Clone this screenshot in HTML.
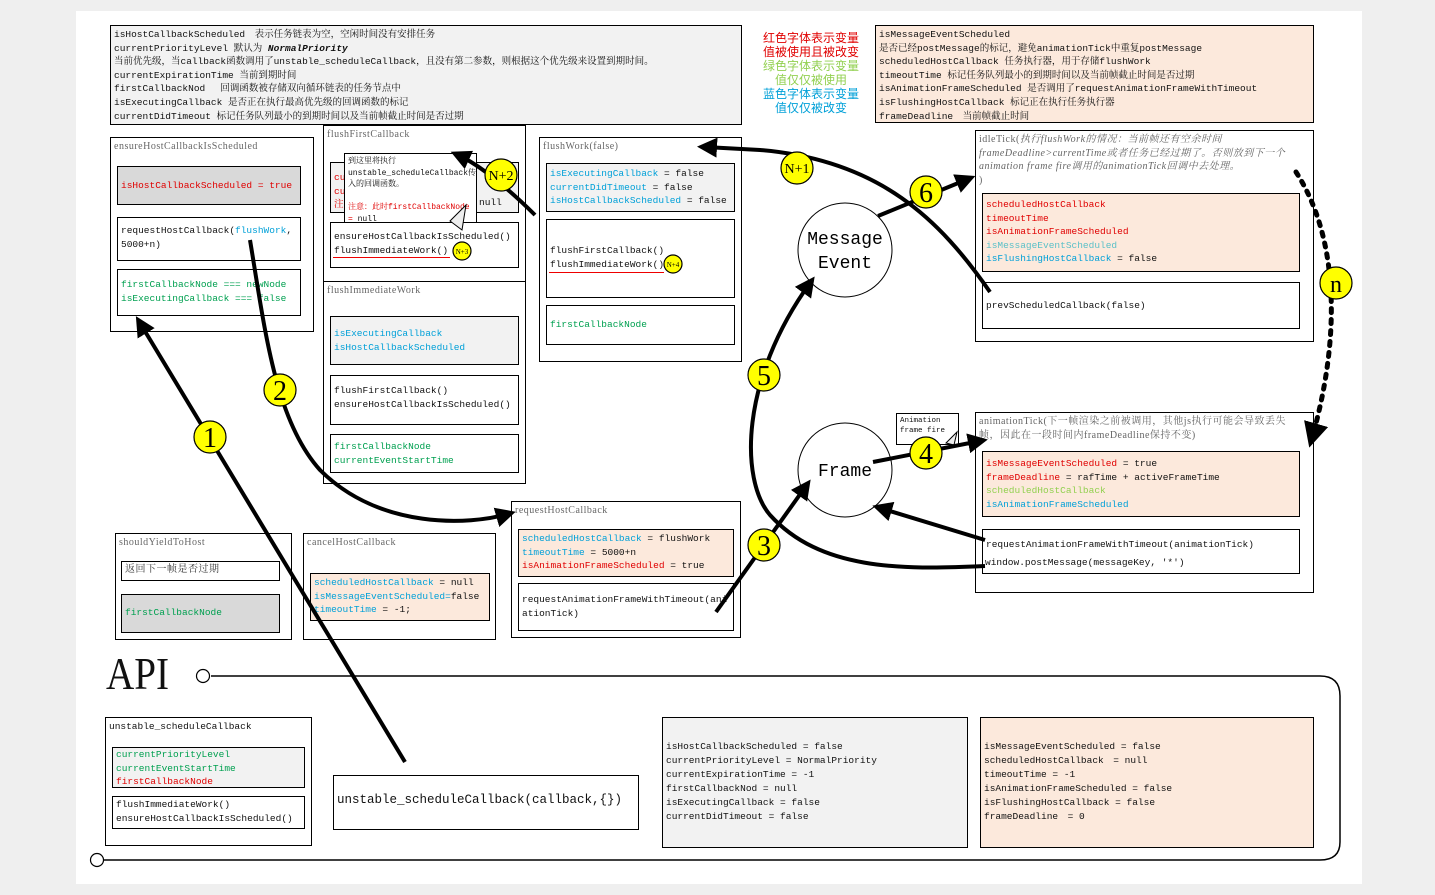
<!DOCTYPE html>
<html><head><meta charset="utf-8"><style>
body{margin:0;width:1435px;height:895px;background:#efefef;position:relative;overflow:hidden;font-family:"Liberation Mono","Noto Serif CJK SC",monospace;font-size:9.5px;color:#111}
#cv{position:absolute;left:76px;top:11px;width:1286px;height:873px;background:#fff}
.b{position:absolute;border:1px solid #000;box-sizing:border-box;line-height:13.6px;padding:2px 3px;white-space:nowrap;overflow:hidden}
.t{color:#666;font-family:"Liberation Serif","Noto Serif CJK SC",serif;font-size:10px;letter-spacing:.5px}
.g{background:#f2f2f2}.p{background:#fce9dc}.gd{background:#d9d9d9}
.r{color:#e00000}.gr{color:#00a050}.bl{color:#00a0d8}.lg{color:#92d050}
svg{position:absolute;left:0;top:0}
</style></head><body>
<div id="cv"></div>
<div class="b g" style="left:110px;top:25px;width:632px;height:100px">isHostCallbackScheduled　表示任务链表为空，空闲时间没有安排任务<br>currentPriorityLevel 默认为 <b><i>NormalPriority</i></b><br>当前优先级，当callback函数调用了unstable_scheduleCallback，且没有第二参数，则根据这个优先级来设置到期时间。<br>currentExpirationTime 当前到期时间<br>firstCallbackNod　 回调函数被存储双向循环链表的任务节点中<br>isExecutingCallback 是否正在执行最高优先级的回调函数的标记<br>currentDidTimeout 标记任务队列最小的到期时间以及当前帧截止时间是否过期</div>
<div style="position:absolute;left:759px;top:31px;width:104px;font-size:12px;line-height:14px;text-align:center;font-family:'Noto Sans CJK SC',sans-serif"><span class="r">红色字体表示变量值被使用且被改变</span><br><span class="lg">绿色字体表示变量值仅仅被使用</span><br><span class="bl">蓝色字体表示变量值仅仅被改变</span></div>
<div class="b p" style="left:875px;top:25px;width:439px;height:98px">isMessageEventScheduled<br>是否已经postMessage的标记，避免animationTick中重复postMessage<br>scheduledHostCallback 任务执行器，用于存储flushWork<br>timeoutTime 标记任务队列最小的到期时间以及当前帧截止时间是否过期<br>isAnimationFrameScheduled 是否调用了requestAnimationFrameWithTimeout<br>isFlushingHostCallback 标记正在执行任务执行器<br>frameDeadline　当前帧截止时间</div>

<div class="b" style="left:110px;top:137px;width:204px;height:195px"><span class="t">ensureHostCallbackIsScheduled</span></div>
<div class="b gd" style="left:117px;top:166px;width:184px;height:39px;padding-top:12px"><span class="r">isHostCallbackScheduled = true</span></div>
<div class="b" style="left:117px;top:217px;width:184px;height:44px;padding-top:6px">requestHostCallback(<span class="bl">flushWork</span>,<br>5000+n)</div>
<div class="b" style="left:117px;top:269px;width:184px;height:47px;padding-top:8px"><span class="gr">firstCallbackNode === newNode<br>isExecutingCallback === false</span></div>

<div class="b" style="left:323px;top:125px;width:203px;height:157px"><span class="t">flushFirstCallback</span></div>
<div class="b g" style="left:330px;top:162px;width:189px;height:51px;padding-top:8px"><span class="r">cu<br>cu<br>注</span><span style="position:absolute;left:148px;top:33px">null</span></div>
<div class="b" style="left:330px;top:222px;width:189px;height:46px;padding-top:7px">ensureHostCallbackIsScheduled()<br>flushImmediateWork()</div>
<div style="position:absolute;left:333px;top:257px;width:117px;height:1px;background:#e00"></div>
<div class="b" style="left:323px;top:281px;width:203px;height:203px"><span class="t">flushImmediateWork</span></div>
<div class="b g" style="left:330px;top:316px;width:189px;height:49px;padding-top:10px"><span class="bl">isExecutingCallback<br>isHostCallbackScheduled</span></div>
<div class="b" style="left:330px;top:375px;width:189px;height:50px;padding-top:8px">flushFirstCallback()<br>ensureHostCallbackIsScheduled()</div>
<div class="b" style="left:330px;top:434px;width:189px;height:39px;padding-top:5px"><span class="gr">firstCallbackNode<br>currentEventStartTime</span></div>
<div class="b" style="left:344px;top:153px;width:133px;height:70px;font-size:8px;line-height:11.5px;background:#fff;padding-top:2px">到这里将执行<br>unstable_scheduleCallback传<br>入的回调函数。<br><br><span class="r">注意：此时firstCallbackNode</span><br><span class="r">=</span> null</div>

<div class="b" style="left:539px;top:137px;width:203px;height:225px"><span class="t">flushWork(false)</span></div>
<div class="b g" style="left:546px;top:163px;width:189px;height:49px;padding-top:3px"><span class="bl">isExecutingCallback</span> = false<br><span class="bl">currentDidTimeout</span> = false<br><span class="bl">isHostCallbackScheduled</span> = false</div>
<div class="b" style="left:546px;top:219px;width:189px;height:79px;padding-top:24px">flushFirstCallback()<br>flushImmediateWork()</div>
<div style="position:absolute;left:549px;top:272px;width:115px;height:1px;background:#e00"></div>
<div class="b" style="left:546px;top:305px;width:189px;height:40px;padding-top:12px"><span class="gr">firstCallbackNode</span></div>

<div class="b" style="left:975px;top:130px;width:339px;height:212px"><span class="t">idleTick(<i>执行flushWork的情况：当前帧还有空余时间<br>frameDeadline&gt;currentTime或者任务已经过期了。否则放到下一个<br>animation frame fire调用的animationTick回调中去处理。</i><br>)</span></div>
<div class="b p" style="left:982px;top:193px;width:318px;height:79px;padding-top:4px"><span class="r">scheduledHostCallback<br>timeoutTime<br>isAnimationFrameScheduled</span><br><span class="bl" style="color:#5bc0c8">isMessageEventScheduled</span><br><span class="bl">isFlushingHostCallback</span> = false</div>
<div class="b" style="left:982px;top:282px;width:318px;height:47px;padding-top:16px">prevScheduledCallback(false)</div>

<div class="b" style="left:975px;top:412px;width:339px;height:181px"><span class="t">animationTick(下一帧渲染之前被调用，其他js执行可能会导致丢失<br>帧，因此在一段时间内frameDeadline保持不变)</span></div>
<div class="b p" style="left:982px;top:451px;width:318px;height:66px;padding-top:5px"><span class="r">isMessageEventScheduled</span> = true<br><span class="r">frameDeadline</span> = rafTime + activeFrameTime<br><span class="lg">scheduledHostCallback</span><br><span class="bl">isAnimationFrameScheduled</span></div>
<div class="b" style="left:982px;top:529px;width:318px;height:45px;padding-top:1px;line-height:27px">requestAnimationFrameWithTimeout(animationTick)<br></div>
<div style="position:absolute;left:985px;top:557px">window.postMessage(messageKey, '*')</div>
<div class="b" style="left:896px;top:413px;width:63px;height:32px;font-size:7.5px;line-height:10px">Animation<br>frame fire</div>

<div class="b" style="left:115px;top:533px;width:177px;height:107px"><span class="t">shouldYieldToHost</span></div>
<div class="b" style="left:121px;top:561px;width:159px;height:20px;padding-top:1px" ><span class="t" style="color:#333">返回下一帧是否过期</span></div>
<div class="b gd" style="left:121px;top:594px;width:159px;height:39px;padding-top:11px"><span class="gr">firstCallbackNode</span></div>
<div class="b" style="left:303px;top:533px;width:193px;height:107px"><span class="t">cancelHostCallback</span></div>
<div class="b p" style="left:310px;top:573px;width:180px;height:48px;padding-top:2px"><span class="bl">scheduledHostCallback</span> = null<br><span class="bl">isMessageEventScheduled=</span>false<br><span class="bl">timeoutTime</span> = -1;</div>
<div class="b" style="left:511px;top:501px;width:230px;height:137px"><span class="t">requestHostCallback</span></div>
<div class="b p" style="left:518px;top:529px;width:216px;height:48px;padding-top:2px"><span class="bl">scheduledHostCallback</span> = flushWork<br><span class="bl">timeoutTime</span> = 5000+n<br><span class="r">isAnimationFrameScheduled</span> = true</div>
<div class="b" style="left:518px;top:583px;width:216px;height:48px;padding-top:9px">requestAnimationFrameWithTimeout(ani<br>ationTick)</div>

<div style="position:absolute;left:106px;top:646px;font-family:'Liberation Serif',serif;font-size:46px;line-height:56px;transform:scaleX(.85);transform-origin:left">API</div>
<div class="b" style="left:105px;top:717px;width:207px;height:129px"><span style="color:#111">unstable_scheduleCallback</span></div>
<div class="b g" style="left:112px;top:747px;width:193px;height:41px;padding-top:0"><span class="gr">currentPriorityLevel<br>currentEventStartTime</span><br><span class="r">firstCallbackNode</span></div>
<div class="b" style="left:112px;top:796px;width:193px;height:33px;padding-top:1px">flushImmediateWork()<br>ensureHostCallbackIsScheduled()</div>
<div class="b" style="left:333px;top:775px;width:306px;height:55px;padding-top:18px;font-size:12.5px">unstable_scheduleCallback(callback,{})</div>
<div class="b g" style="left:662px;top:717px;width:306px;height:131px;padding-top:22px;line-height:14px">isHostCallbackScheduled = false<br>currentPriorityLevel = NormalPriority<br>currentExpirationTime = -1<br>firstCallbackNod = null<br>isExecutingCallback = false<br>currentDidTimeout = false</div>
<div class="b p" style="left:980px;top:717px;width:334px;height:131px;padding-top:22px;line-height:14px">isMessageEventScheduled = false<br>scheduledHostCallback　= null<br>timeoutTime = -1<br>isAnimationFrameScheduled = false<br>isFlushingHostCallback = false<br>frameDeadline　= 0</div>

<svg width="1435" height="895" viewBox="0 0 1435 895">
<defs><marker id="a" markerWidth="5" markerHeight="5" refX="3" refY="2.5" orient="auto" markerUnits="strokeWidth"><path d="M0,0 L5,2.5 L0,5 z" fill="#000"/></marker></defs>
<g fill="none" stroke="#000">
<path d="M211,676 H1320 Q1340,676 1340,696 V842 Q1340,860 1320,860 H104" stroke-width="1.5"/>
<circle cx="203" cy="676" r="6.5" fill="#fff" stroke-width="1.2"/>
<circle cx="97" cy="860" r="6.5" fill="#fff" stroke-width="1.2"/>
<circle cx="845" cy="250" r="47" fill="#fff" stroke-width="1"/>
<circle cx="845" cy="470" r="47" fill="#fff" stroke-width="1"/>
<path d="M450,221 L466,205 L462,230 z" fill="#eee" stroke-width="1"/>
<path d="M946,443 L957,432 L954,445 z" fill="#eee" stroke-width="1"/>
<g stroke-width="4" marker-end="url(#a)">
<path d="M405,762 L140,323"/>
<path d="M250,240 C265,330 275,420 320,470 C380,530 470,525 508,514"/>
<path d="M535,215 C510,190 480,165 458,155"/>
<path d="M990,292 C940,220 880,160 760,150 L705,147"/>
<path d="M878,216 L968,179"/>
<path d="M985,566 C900,570 820,570 770,515 C740,480 740,380 810,283"/>
<path d="M873,462 L980,441"/>
<path d="M985,540 L880,508"/>
<path d="M716,612 L806,486"/>
<path d="M1296,172 C1340,240 1340,340 1312,438" stroke-dasharray="4,7" stroke-linecap="round" stroke-width="5"/>
</g></g>
<g fill="#ffff00" stroke="#000" stroke-width="1.2" font-family="Liberation Serif,serif" text-anchor="middle">
<circle cx="210" cy="437" r="16"/><circle cx="280" cy="390" r="16"/><circle cx="501" cy="175" r="16"/>
<circle cx="797" cy="168" r="16"/><circle cx="926" cy="192" r="16"/><circle cx="764" cy="375" r="16"/>
<circle cx="926" cy="453" r="16"/><circle cx="764" cy="545" r="16"/><circle cx="1336" cy="283" r="16"/>
<circle cx="462" cy="251" r="9"/><circle cx="673" cy="264" r="9"/>
</g>
<g font-family="Liberation Serif,serif" text-anchor="middle" fill="#000">
<text x="210" y="447" font-size="28">1</text><text x="280" y="400" font-size="28">2</text>
<text x="501" y="180" font-size="14">N+2</text><text x="797" y="173" font-size="14">N+1</text>
<text x="926" y="202" font-size="28">6</text><text x="764" y="385" font-size="28">5</text>
<text x="926" y="463" font-size="28">4</text><text x="764" y="555" font-size="28">3</text>
<text x="1336" y="292" font-size="24">n</text>
<text x="462" y="254" font-size="7">N+3</text><text x="673" y="267" font-size="7">N+4</text>
<g font-family="Liberation Mono,monospace" font-size="18">
<text x="845" y="244">Message</text><text x="845" y="268">Event</text>
<text x="845" y="476">Frame</text></g>
</g>
</svg>
</body></html>
